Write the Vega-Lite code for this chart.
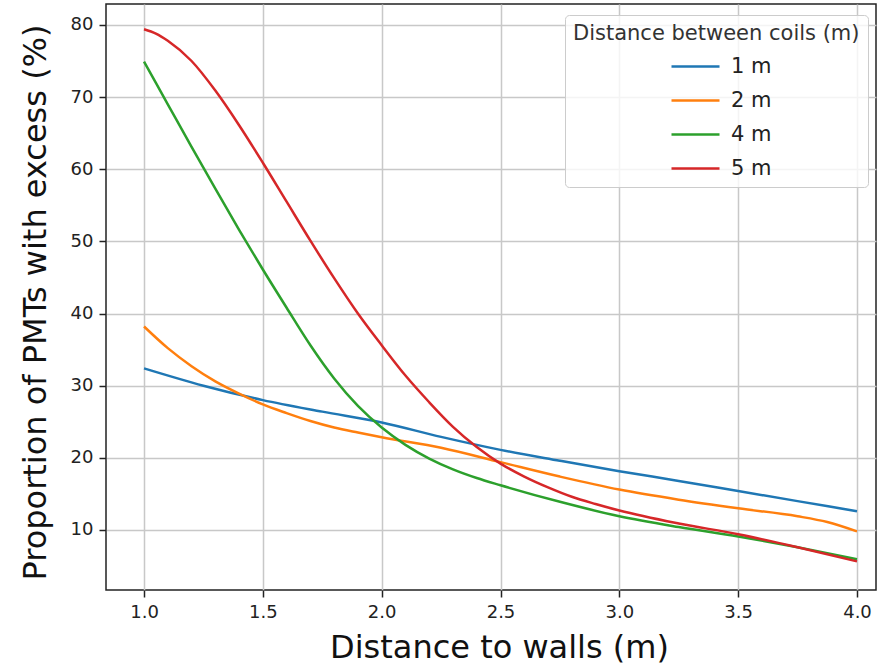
{
  "$schema": "https://vega.github.io/schema/vega-lite/v6.json",
  "width": 770,
  "height": 586,
  "autosize": {"type": "none"},
  "padding": {"left": 106, "top": 4, "right": 1, "bottom": 75},
  "background": "white",
  "config": {
    "font": "DejaVu Sans",
    "view": {"stroke": "#222222", "strokeWidth": 1.5},
    "axis": {
      "domain": false,
      "grid": true,
      "gridColor": "#c8c8c8",
      "gridWidth": 1.5,
      "tickColor": "#222222",
      "tickWidth": 1.5,
      "tickSize": 7,
      "labelFontSize": 18,
      "labelColor": "#222222",
      "labelPadding": 6,
      "titleFontSize": 32,
      "titleFontWeight": "normal",
      "titleColor": "#111111"
    }
  },
  "data": {
    "values": [
      {"c": "1 m", "d": 1.0, "p": 32.4},
      {"c": "1 m", "d": 1.25, "p": 30.0},
      {"c": "1 m", "d": 1.5, "p": 28.0},
      {"c": "1 m", "d": 1.75, "p": 26.4},
      {"c": "1 m", "d": 2.0, "p": 24.9},
      {"c": "1 m", "d": 2.25, "p": 22.9},
      {"c": "1 m", "d": 2.5, "p": 21.1},
      {"c": "1 m", "d": 2.75, "p": 19.6},
      {"c": "1 m", "d": 3.0, "p": 18.15},
      {"c": "1 m", "d": 3.25, "p": 16.8},
      {"c": "1 m", "d": 3.5, "p": 15.4},
      {"c": "1 m", "d": 3.75, "p": 14.0},
      {"c": "1 m", "d": 4.0, "p": 12.6},

      {"c": "2 m", "d": 1.0, "p": 38.2},
      {"c": "2 m", "d": 1.1, "p": 35.2},
      {"c": "2 m", "d": 1.2, "p": 32.7},
      {"c": "2 m", "d": 1.3, "p": 30.6},
      {"c": "2 m", "d": 1.4, "p": 28.9},
      {"c": "2 m", "d": 1.5, "p": 27.4},
      {"c": "2 m", "d": 1.6, "p": 26.2},
      {"c": "2 m", "d": 1.7, "p": 25.1},
      {"c": "2 m", "d": 1.8, "p": 24.2},
      {"c": "2 m", "d": 1.9, "p": 23.5},
      {"c": "2 m", "d": 2.0, "p": 22.85},
      {"c": "2 m", "d": 2.25, "p": 21.4},
      {"c": "2 m", "d": 2.5, "p": 19.4},
      {"c": "2 m", "d": 2.75, "p": 17.4},
      {"c": "2 m", "d": 3.0, "p": 15.6},
      {"c": "2 m", "d": 3.25, "p": 14.2},
      {"c": "2 m", "d": 3.5, "p": 13.0},
      {"c": "2 m", "d": 3.75, "p": 11.9},
      {"c": "2 m", "d": 3.875, "p": 11.1},
      {"c": "2 m", "d": 4.0, "p": 9.8},

      {"c": "4 m", "d": 1.0, "p": 74.9},
      {"c": "4 m", "d": 1.1, "p": 69.0},
      {"c": "4 m", "d": 1.2, "p": 63.1},
      {"c": "4 m", "d": 1.3, "p": 57.3},
      {"c": "4 m", "d": 1.4, "p": 51.6},
      {"c": "4 m", "d": 1.5, "p": 46.1},
      {"c": "4 m", "d": 1.6, "p": 40.8},
      {"c": "4 m", "d": 1.7, "p": 35.6},
      {"c": "4 m", "d": 1.8, "p": 31.0},
      {"c": "4 m", "d": 1.9, "p": 27.2},
      {"c": "4 m", "d": 2.0, "p": 24.2},
      {"c": "4 m", "d": 2.1, "p": 21.8},
      {"c": "4 m", "d": 2.2, "p": 19.9},
      {"c": "4 m", "d": 2.3, "p": 18.4},
      {"c": "4 m", "d": 2.4, "p": 17.2},
      {"c": "4 m", "d": 2.5, "p": 16.2},
      {"c": "4 m", "d": 2.75, "p": 13.9},
      {"c": "4 m", "d": 3.0, "p": 11.9},
      {"c": "4 m", "d": 3.25, "p": 10.4},
      {"c": "4 m", "d": 3.5, "p": 9.1},
      {"c": "4 m", "d": 3.75, "p": 7.6},
      {"c": "4 m", "d": 4.0, "p": 5.95},

      {"c": "5 m", "d": 1.0, "p": 79.4},
      {"c": "5 m", "d": 1.05, "p": 78.8},
      {"c": "5 m", "d": 1.1, "p": 77.8},
      {"c": "5 m", "d": 1.2, "p": 75.0},
      {"c": "5 m", "d": 1.3, "p": 70.9},
      {"c": "5 m", "d": 1.4, "p": 66.1},
      {"c": "5 m", "d": 1.5, "p": 60.9},
      {"c": "5 m", "d": 1.6, "p": 55.5},
      {"c": "5 m", "d": 1.7, "p": 50.1},
      {"c": "5 m", "d": 1.8, "p": 44.9},
      {"c": "5 m", "d": 1.9, "p": 40.0},
      {"c": "5 m", "d": 2.0, "p": 35.6},
      {"c": "5 m", "d": 2.1, "p": 31.4},
      {"c": "5 m", "d": 2.2, "p": 27.7},
      {"c": "5 m", "d": 2.3, "p": 24.3},
      {"c": "5 m", "d": 2.4, "p": 21.5},
      {"c": "5 m", "d": 2.5, "p": 19.2},
      {"c": "5 m", "d": 2.6, "p": 17.4},
      {"c": "5 m", "d": 2.7, "p": 15.9},
      {"c": "5 m", "d": 2.8, "p": 14.6},
      {"c": "5 m", "d": 2.9, "p": 13.6},
      {"c": "5 m", "d": 3.0, "p": 12.7},
      {"c": "5 m", "d": 3.25, "p": 10.9},
      {"c": "5 m", "d": 3.5, "p": 9.4},
      {"c": "5 m", "d": 3.75, "p": 7.6},
      {"c": "5 m", "d": 4.0, "p": 5.65}
    ]
  },
  "mark": {"type": "line", "interpolate": "monotone", "strokeWidth": 2.5, "clip": true},
  "encoding": {
    "x": {
      "field": "d",
      "type": "quantitative",
      "scale": {"domain": [0.84, 4.08], "nice": false, "zero": false},
      "axis": {
        "values": [1, 1.5, 2, 2.5, 3, 3.5, 4],
        "format": ".1f",
        "title": "Distance to walls (m)",
        "titleBaseline": "alphabetic",
        "titleY": 67,
        "titleX": 393
      }
    },
    "y": {
      "field": "p",
      "type": "quantitative",
      "scale": {"domain": [1.68, 82.9], "nice": false, "zero": false},
      "axis": {
        "values": [10, 20, 30, 40, 50, 60, 70, 80],
        "title": "Proportion of PMTs with excess (%)",
        "titleBaseline": "alphabetic",
        "titleX": -61,
        "titleY": 298,
        "titleAngle": 270
      }
    },
    "color": {
      "field": "c",
      "type": "nominal",
      "scale": {"domain": ["1 m", "2 m", "4 m", "5 m"], "range": ["#1f77b4", "#ff7f0e", "#2ca02c", "#d62728"]},
      "legend": {
        "title": "Distance between coils (m)",
        "titleLimit": 400,
        "orient": "none",
        "legendX": 459,
        "legendY": 11,
        "symbolType": "M-3,0H3",
        "symbolSize": 256,
        "symbolStrokeWidth": 2.5,
        "symbolOffset": 112,
        "labelOffset": 25,
        "labelFontSize": 21,
        "labelColor": "#222222",
        "titleFontSize": 21,
        "titleFontWeight": "normal",
        "titleColor": "#333333",
        "padding": 8,
        "rowPadding": 12,
        "titlePadding": 12,
        "fillColor": "rgba(255,255,255,0.8)",
        "strokeColor": "#cccccc",
        "cornerRadius": 4
      }
    }
  }
}
